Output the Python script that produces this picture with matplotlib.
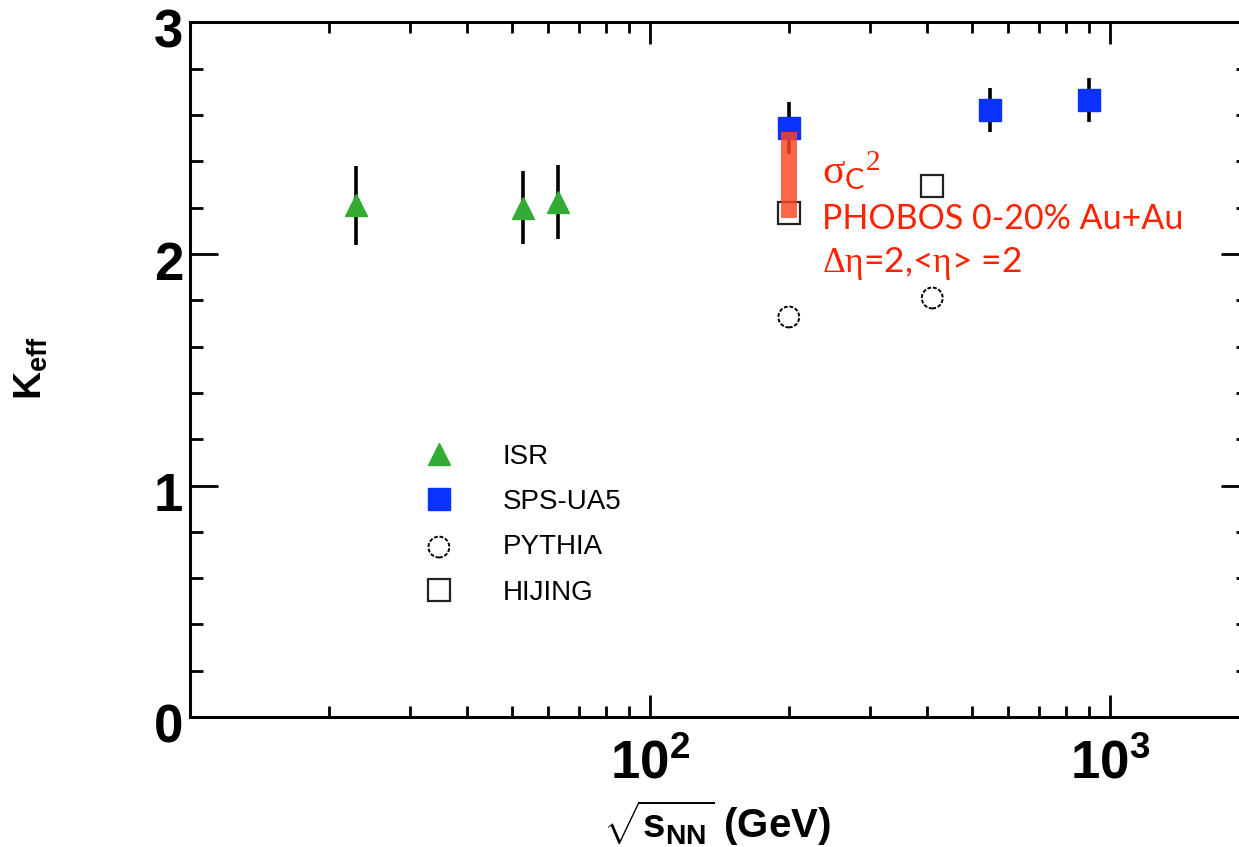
import matplotlib
matplotlib.use("Agg")
import matplotlib.pyplot as plt
import matplotlib.transforms as mtransforms
from matplotlib.ticker import FixedLocator, NullFormatter

plt.rcParams.update({
    "font.family": "Liberation Sans",
    "mathtext.fontset": "custom",
    "mathtext.rm": "Liberation Serif",
    "mathtext.it": "Liberation Serif:italic",
    "mathtext.bf": "Liberation Sans:bold",
    "mathtext.sf": "Lato",
})

# ISR pp data
isr_energy = [23, 53, 63]
isr_keff = [2.21, 2.20, 2.225]
isr_err = [0.17, 0.157, 0.16]

# SPS-UA5 ppbar data
ua5_energy = [200, 546, 900]
ua5_keff = [2.545, 2.622, 2.665]
ua5_err = [0.112, 0.097, 0.095]

# model curves
pythia_energy = [200, 410]
pythia_keff = [1.728, 1.81]
hijing_energy = [200, 410]
hijing_keff = [2.175, 2.295]

# PHOBOS sigma_C^2 band, 0-20% Au+Au at 200 GeV
phobos_energy = 200
phobos_lo, phobos_hi = 2.155, 2.525

W, H = 1239, 847
fig = plt.figure(figsize=(W / 100, H / 100), dpi=100)


def px(x, y):
    """pixel position (from top-left) -> figure fraction"""
    return x / W, 1 - y / H


ax = fig.add_axes([190 / W, 1 - 717 / H, (1249 - 190) / W, (717 - 22.5) / H])
ax.set_xscale("log")
ax.set_xlim(10, 2000)
ax.set_ylim(0, 3)

# error bars first, markers on top
ax.errorbar(isr_energy, isr_keff, yerr=isr_err, fmt="none", ecolor="black",
            elinewidth=2.6, capsize=0, zorder=2)
ax.errorbar(ua5_energy, ua5_keff, yerr=ua5_err, fmt="none", ecolor="black",
            elinewidth=2.6, capsize=0, zorder=2)

ax.plot(isr_energy, isr_keff, ls="none", marker="^", ms=16, color="#33aa33",
        mec="#33aa33", label="ISR", zorder=3)
ax.plot(ua5_energy, ua5_keff, ls="none", marker="s", ms=16, color="#0a32ff",
        mec="#0a32ff", label="SPS-UA5", zorder=3)
ax.scatter(pythia_energy, pythia_keff, marker="o", s=225, facecolors="none",
           edgecolors="black", linewidths=1.4, linestyles=(0, (2.0, 0.9)),
           label="PYTHIA", zorder=3)
ax.plot(hijing_energy, hijing_keff, ls="none", marker="s", ms=16.5,
        mfc="none", mec="#222222", mew=1.6, label="HIJING", zorder=3)

ax.bar(phobos_energy, phobos_hi - phobos_lo, bottom=phobos_lo, width=16,
       color="#ff4422", alpha=0.82, zorder=4)

# axes styling, ticks on all four sides
for sp in ax.spines.values():
    sp.set_linewidth(2.2)
ax.xaxis.set_major_locator(FixedLocator([100, 1000]))
ax.set_xticklabels([r"$\mathbf{10^{2}}$", r"$\mathbf{10^{3}}$"])
minor_x = [m * d for d in (10, 100, 1000) for m in range(2, 10)]
ax.xaxis.set_minor_locator(FixedLocator(minor_x))
ax.xaxis.set_minor_formatter(NullFormatter())
ax.yaxis.set_major_locator(FixedLocator([0, 1, 2, 3]))
ax.yaxis.set_minor_locator(FixedLocator([i * 0.2 for i in range(16)]))
ax.set_yticklabels(["0", "1", "2", "3"])

ax.tick_params(which="both", direction="in", top=True, right=True, width=2.0)
ax.tick_params(axis="x", which="major", length=16, pad=16, labelsize=38)
ax.tick_params(axis="x", which="minor", length=8)
ax.tick_params(axis="y", which="major", length=20, pad=5, labelsize=38)
ax.tick_params(axis="y", which="minor", length=9.5)
for lab in ax.get_yticklabels():
    lab.set_fontweight("bold")
    lab.set_transform(lab.get_transform() +
                      mtransforms.ScaledTranslation(0, -6 / 100, fig.dpi_scale_trans))

fig.text(*px(717, 838), r"$\mathbf{\sqrt{s_{NN}}}$ (GeV)", ha="center",
         va="baseline", fontsize=29, fontweight="bold")
fig.text(*px(31, 368), r"$\mathbf{K_{eff}}$", rotation=90, ha="center",
         va="center", fontsize=28)

leg = ax.legend(loc="upper left", bbox_to_anchor=px(425, 444),
                bbox_transform=fig.transFigure, frameon=False, borderpad=0,
                borderaxespad=0, handlelength=1.0, handletextpad=1.8,
                labelspacing=0.69, prop={"family": "Liberation Sans", "size": 20})

red = "#ff2200"
fig.text(*px(822, 184), r"$\mathrm{\sigma}_{\mathsf{C}}{}^{\mathrm{2}}$",
         color=red, fontsize=30, va="baseline", family="Lato")
fig.text(*px(822, 229), "PHOBOS 0-20% Au+Au", color=red, fontsize=24.5,
         va="baseline", family="Lato")
fig.text(*px(822, 272), r"$\mathrm{\Delta\eta}$=2,<$\mathrm{\eta}$> =2",
         color=red, fontsize=25.5, va="baseline", family="Lato")

fig.savefig("out.png", dpi=100)
